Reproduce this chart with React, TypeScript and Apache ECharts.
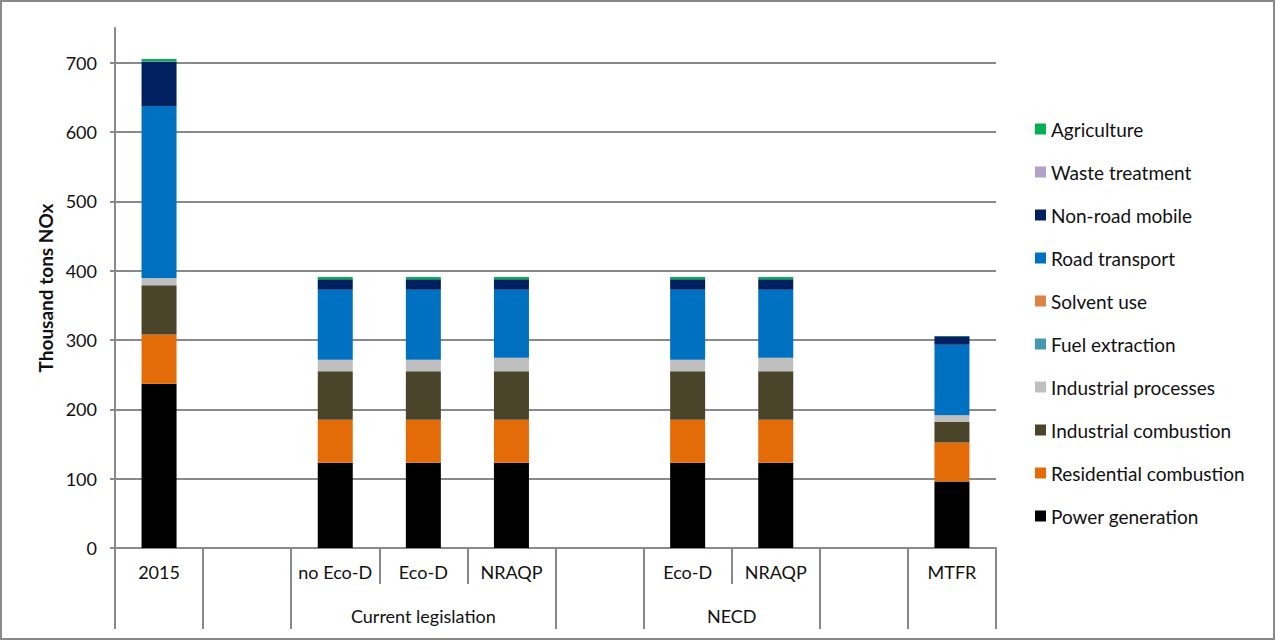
import React, { useEffect, useRef } from "react";
import * as echarts from "echarts";

// Categories (slots) on the x axis; empty strings are spacer slots
const categories = ["2015", "", "no Eco-D", "Eco-D", "NRAQP", "", "Eco-D", "NRAQP", "", "MTFR"];
// Second-level groups: [name, first slot, end slot (exclusive)]
const groups: [string, number, number][] = [
  ["Current legislation", 2, 5],
  ["NECD", 6, 8],
];

const sectorNames = [
  "Power generation",
  "Residential combustion",
  "Industrial combustion",
  "Industrial processes",
  "Fuel extraction",
  "Solvent use",
  "Road transport",
  "Non-road mobile",
  "Waste treatment",
  "Agriculture",
];
const sectorColors = [
  "#000000",
  "#e36c09",
  "#4a452a",
  "#bfbfbf",
  "#4198af",
  "#de8344",
  "#0070c0",
  "#002060",
  "#b3a2c7",
  "#00b050",
];

const powerGeneration = [237, null, 123, 123, 123, null, 123, 123, null, 96];
const residentialCombustion = [71, null, 62, 62, 62, null, 62, 62, null, 56];
const industrialCombustion = [71, null, 70, 70, 70, null, 70, 70, null, 30];
const industrialProcesses = [10, null, 16, 16, 19, null, 16, 19, null, 9];
const fuelExtraction = [0.4, null, 0.3, 0.3, 0.3, null, 0.3, 0.3, null, 0.2];
const solventUse = [0.2, null, 0.2, 0.2, 0.2, null, 0.2, 0.2, null, 0.1];
const roadTransport = [248, null, 101, 101, 98, null, 101, 98, null, 102];
const nonRoadMobile = [64, null, 15, 15, 15, null, 15, 15, null, 12];
const wasteTreatment = [0.3, null, 0.2, 0.2, 0.2, null, 0.2, 0.2, null, 0.1];
const agriculture = [3.5, null, 3, 3, 3, null, 3, 3, null, 0.5];

const sectorValues = [
  powerGeneration,
  residentialCombustion,
  industrialCombustion,
  industrialProcesses,
  fuelExtraction,
  solventUse,
  roadTransport,
  nonRoadMobile,
  wasteTreatment,
  agriculture,
];

const yTicks = { min: 0, max: 750, interval: 100 };

export default function App() {
  const ref = useRef<HTMLDivElement>(null);
  useEffect(() => {
    if (!ref.current) return;
    const chart = echarts.init(ref.current, undefined, { renderer: "svg" });
    const font = "Lato";
    const gray = "#8a8a8a";
    // long ticks at all boundaries except internal boundaries of groups
    const internal = new Set<number>();
    groups.forEach(([, a, b]) => {
      for (let i = a + 1; i < b; i++) internal.add(i);
    });
    const series = sectorNames.map((name, i) => ({
      name,
      type: "bar",
      stack: "total",
      barWidth: 35,
      xAxisIndex: 0,
      yAxisIndex: 0,
      itemStyle: { color: sectorColors[i] },
      data: sectorValues[i].map((v) => (v == null ? "-" : v)),
    }));
    chart.setOption({
      animation: false,
      textStyle: { fontFamily: font },
      grid: { left: 115, right: 280, top: 28, bottom: 94, containLabel: false },
      legend: {
        orient: "vertical",
        left: 1030,
        top: 114,
        icon: "rect",
        itemWidth: 11,
        itemHeight: 11,
        itemGap: 23,
        data: [...sectorNames].reverse(),
        textStyle: { fontFamily: font, fontSize: 19, color: "#111", lineHeight: 20 },
      },
      xAxis: [
        {
          type: "category",
          data: categories,
          position: "bottom",
          axisLine: { show: true, lineStyle: { color: gray, width: 2 } },
          axisTick: { show: true, interval: 0, length: 36, lineStyle: { color: gray, width: 2 } },
          axisLabel: { interval: 0, fontFamily: font, fontSize: 18, color: "#111", margin: 15 },
        },
        {
          type: "category",
          data: categories,
          position: "bottom",
          axisLine: { show: false },
          axisTick: {
            show: true,
            interval: (index: number) => !internal.has(index),
            length: 81,
            lineStyle: { color: gray, width: 2 },
          },
          axisLabel: { show: false },
        },
        {
          type: "value",
          min: 0,
          max: categories.length,
          interval: 0.5,
          position: "bottom",
          axisLine: { show: false },
          axisTick: { show: false },
          splitLine: { show: false },
          axisLabel: {
            fontFamily: font,
            fontSize: 18,
            color: "#111",
            margin: 59,
            formatter: (v: number) => {
              const g = groups.find(([, a, b]) => (a + b) / 2 === v);
              return g ? g[0] : "";
            },
          },
        },
      ],
      yAxis: {
        type: "value",
        min: yTicks.min,
        max: yTicks.max,
        interval: yTicks.interval,
        name: "Thousand tons NOx",
        nameLocation: "middle",
        nameGap: 60,
        nameTextStyle: { fontFamily: font, fontSize: 19, fontWeight: "bold", color: "#111" },
        axisLine: { show: true, lineStyle: { color: gray, width: 2 } },
        axisTick: { show: true, length: 5, lineStyle: { color: gray, width: 2 } },
        axisLabel: { fontFamily: font, fontSize: 18, color: "#111", margin: 18, showMaxLabel: false },
        splitLine: { show: true, showMaxLine: false, lineStyle: { color: gray, width: 2 } },
      },
      graphic: [
        {
          type: "rect",
          shape: { x: 1, y: 1, width: 1273, height: 638 },
          style: { fill: "none", stroke: gray, lineWidth: 2 },
          silent: true,
        },
      ],
      series,
    });
    return () => chart.dispose();
  }, []);
  return (
    <div
      ref={ref}
      style={{ position: "fixed", left: 0, top: 0, width: 1276, height: 642, background: "#fff" }}
    />
  );
}
